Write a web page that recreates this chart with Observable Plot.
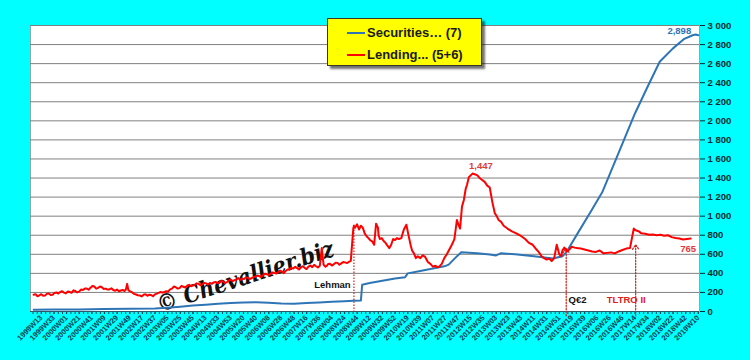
<!DOCTYPE html>
<html><head><meta charset="utf-8">
<script src="https://cdn.jsdelivr.net/npm/d3@7"></script>
<script src="https://cdn.jsdelivr.net/npm/@observablehq/plot@0.6"></script>
<style>
html,body{margin:0;padding:0;background:#00FFFF;}
#wrap{position:relative;width:750px;height:360px;overflow:hidden;}
#legend{position:absolute;left:327px;top:18px;width:153px;height:46px;background:#FFFF00;border:1.5px solid #3a3a20;box-shadow:3px 3px 2px rgba(0,0,0,0.55);font:bold 13px "Liberation Sans",Arial,sans-serif;color:#1a1a1a;}
.row{position:absolute;left:19px;display:flex;align-items:center;height:15px;white-space:nowrap;}
.sw{width:18px;height:2px;margin-right:2px;}
</style></head><body>
<div id="wrap"><div id="legend"></div></div>
<script>
// X tick labels (one every 20 weeks, week index 0 = 1999W13)
const weekLabels = ["1999W13","1999W33","2000W01","2000W21","2000W41","2001W09","2001W29","2001W49","2002W17","2002W37","2003W05","2003W25","2003W45","2004W13","2004W33","2004W53","2005W20","2005W40","2006W08","2006W28","2006W48","2007W16","2007W36","2008W04","2008W24","2008W44","2009W12","2009W32","2009W52","2010W19","2010W39","2011W07","2011W27","2011W47","2012W15","2012W35","2013W03","2013W23","2013W43","2014W11","2014W31","2014W51","2015W19","2015W39","2016W06","2016W26","2016W46","2017W14","2017W34","2018W02","2018W22","2018W42","2019W10"];
const yTicks = [0,200,400,600,800,1000,1200,1400,1600,1800,2000,2200,2400,2600,2800,3000];

const seriesNames = ["Securities… (7)", "Lending... (5+6)"];
const seriesColors = ["#2E75B6", "#FF0000"];

// Securities (7): week index, EUR bn
const secWeek = [-12,20,60,100,140,180,200,220,240,260,280,300,320,340,360,380,400,420,440,460,480,494,506,508,520,540,560,576,580,600,620,640,645,655,665,690,710,720,728,750,780,800,810,825,831,850,870,888,900,920,940,960,979,1000,1018,1031,1036,1040];
const secValue = [18,20,22,25,28,32,40,50,62,72,82,90,95,97,92,85,82,88,95,102,108,112,115,280,298,322,345,360,400,425,450,478,492,560,622,612,598,588,612,600,580,565,555,580,620,830,1050,1250,1440,1760,2080,2360,2620,2760,2860,2898,2905,2898];

// Lending (5+6): week index, EUR bn
const lendWeek = [-12,-9,-6,-3,0,3,6,9,12,15,18,21,24,27,30,33,36,39,42,45,48,51,54,57,60,63,66,69,72,75,78,81,84,87,90,93,96,99,102,105,108,111,114,117,120,123,126,129,132,134,136,138,141,144,147,150,153,156,159,162,165,168,171,174,177,180,183,186,189,192,195,198,201,204,207,210,213,216,219,222,225,228,231,234,237,240,243,246,249,252,255,258,261,264,267,270,273,276,279,282,285,288,291,294,297,300,303,306,309,312,315,318,321,324,327,330,333,336,339,342,345,348,351,354,357,360,363,366,369,372,375,378,381,384,387,390,393,396,399,402,405,408,411,414,417,420,423,426,429,432,435,438,441,444,447,450,452,454,457,460,463,466,469,472,475,478,481,484,487,490,494,
 495,497,500,503,506,509,512,515,518,521,524,527,530,533,534,536,539,542,545,548,551,554,557,560,563,566,570,574,578,582,585,587,590,593,596,600,604,608,612,616,620,624,627,630,634,638,642,646,650,654,658,661,663,666,669,672,674,677,680,683,686,690,694,698,702,706,710,714,718,721,724,728,732,738,745,752,760,766,772,778,784,788,792,796,800,804,808,812,816,820,823,825,828,832,836,840,844,848,854,860,866,872,878,884,890,896,902,908,914,920,926,932,938,940,942,946,950,956,962,968,974,980,986,992,998,1004,1010,1016,1022,1028,1034,1040];
const lendValue = [175,182,160,170,182,165,168,185,190,172,175,195,200,188,205,212,198,190,210,204,196,222,215,200,208,230,225,240,240,228,250,268,262,240,248,262,255,236,240,230,232,244,225,218,230,212,220,226,215,232,290,222,210,200,185,178,170,168,158,175,182,165,176,172,160,180,188,195,205,198,205,212,210,232,240,262,255,240,245,268,260,252,270,280,265,272,280,295,290,276,285,300,295,282,300,290,305,310,298,300,322,315,296,310,325,335,318,328,335,350,330,345,340,358,355,340,350,362,365,378,372,362,380,395,390,382,395,410,405,398,410,430,418,402,425,440,440,458,450,470,455,440,462,475,458,445,470,482,465,490,475,462,480,665,490,470,478,498,500,482,495,512,510,490,505,520,515,508,520,
 530,870,900,880,915,860,900,880,820,790,770,745,735,700,920,880,800,760,770,740,720,690,665,700,760,750,770,760,770,860,910,780,690,640,610,560,580,560,590,570,520,500,470,480,465,470,500,560,600,650,700,760,960,900,870,1100,1170,1290,1330,1410,1430,1447,1440,1430,1400,1380,1360,1320,1300,1150,1030,1000,960,940,900,870,840,820,790,760,720,700,650,620,580,560,545,555,530,560,700,600,580,640,670,630,650,680,670,665,660,650,640,630,625,640,610,615,620,610,630,645,660,665,870,855,850,840,820,815,805,808,800,805,795,800,780,770,765,755,760,765];

// Event markers: week index, top of the dotted line
const eventWeek = [495, 831, 941];
const eventTop = [905, 663, 700];
const eventArrow = [false, true, true];

// Text annotations (centred)
const noteText = ["Lehman", "Q€2", "TLTRO II", "1,447", "765", "2,898"];
const noteWeek = [461, 849, 926, 696, 1024, 1010];
const noteValue = [274, 116, 116, 1526, 652, 2947];
const noteColor = ["#111", "#111", "#E02020", "#E03A3A", "#E03A3A", "#2E75B6"];

const sec = secWeek.map((w, i) => ({w, v: secValue[i]}));
const lend = lendWeek.map((w, i) => ({w, v: lendValue[i]}));
const events = eventWeek.map((w, i) => ({w, top: eventTop[i], arrow: eventArrow[i]}));
const notes = noteText.map((t, i) => ({t, w: noteWeek[i], v: noteValue[i], c: noteColor[i]}));
const majorTicks = weekLabels.map((_, i) => i * 20);
const minorTicks = d3.range(-13, 1042, 20 / 3);

const chart = Plot.plot({
  width: 750, height: 360,
  marginLeft: 30, marginRight: 51, marginTop: 25, marginBottom: 49,
  style: {background: "#00FFFF", fontFamily: '"Liberation Sans", Arial, sans-serif', overflow: "visible"},
  x: {domain: [-17, 1042]},
  y: {domain: [0, 3000]},
  marks: [
    Plot.frame({fill: "white", stroke: "#8aa"}),
    Plot.gridY(yTicks, {stroke: "#808080", strokeOpacity: 1, strokeWidth: 1}),
    Plot.axisY(yTicks, {anchor: "right", tickSize: 5, tickPadding: 3, label: null,
      tickFormat: d => d3.format(",")(d).replace(/,/g, " "),
      fontWeight: "bold", fontSize: 9.5, color: "#0b2b33"}),
    Plot.axisX(minorTicks, {tickSize: 3, tickFormat: () => "", label: null, color: "#1a4a5a"}),
    Plot.axisX(majorTicks, {tickSize: 3, tickPadding: 2, tickRotate: -45, label: null,
      tickFormat: d => weekLabels[Math.round(d / 20)],
      fontWeight: "bold", fontSize: 7.5, color: "#0a4050"}),
    Plot.ruleY([0], {stroke: "#2a5a6a", strokeWidth: 1.2}),
    Plot.text([0], {x: 323, y: 362, text: () => "© Chevallier.biz", rotate: -18,
      fontSize: 23, fontStyle: "italic", fontWeight: "bold",
      fontFamily: '"DejaVu Serif Condensed", "DejaVu Serif", serif', fill: "#111",
      textDecoration: "underline"}),
    Plot.ruleX(events.filter(d => !d.arrow), {x: "w", y1: -10, y2: "top", stroke: "#D02020", strokeWidth: 1.2, strokeDasharray: "1.5,1.5"}),
    Plot.arrow(events.filter(d => d.arrow), {x1: "w", x2: "w", y1: -45, y2: "top", stroke: "#D02020", strokeWidth: 1.2, strokeDasharray: "1.5,1.5", headLength: 7, headAngle: 70}),
    Plot.line(sec, {x: "w", y: "v", stroke: seriesColors[0], strokeWidth: 2}),
    Plot.line(lend, {x: "w", y: "v", stroke: seriesColors[1], strokeWidth: 2}),
    Plot.text(notes, {x: "w", y: "v", text: "t", fill: "c", fontWeight: "bold", fontSize: 9.5})
  ]
});
document.getElementById("wrap").prepend(chart);

const legend = document.getElementById("legend");
seriesNames.forEach((name, i) => {
  const row = document.createElement("div");
  row.className = "row";
  row.style.top = (6 + i * 22) + "px";
  row.innerHTML = `<div class="sw" style="background:${seriesColors[i]}"></div><span>${name}</span>`;
  legend.appendChild(row);
});
</script>
</body></html>
